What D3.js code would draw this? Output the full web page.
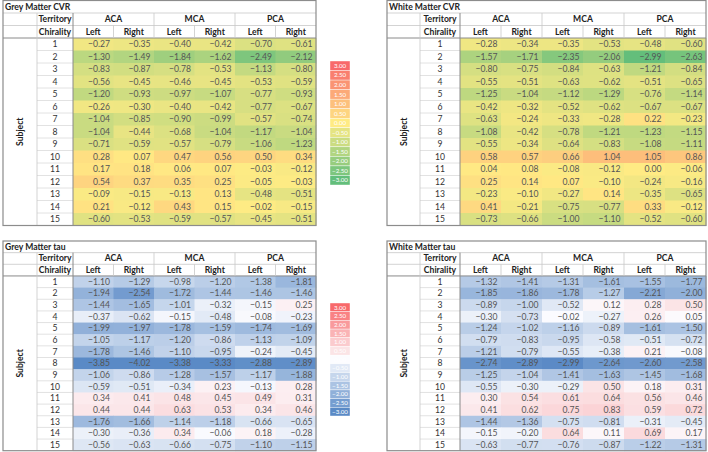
<!DOCTYPE html>
<html>
<head>
<meta charset="utf-8">
<script src="https://cdn.jsdelivr.net/npm/d3@7"></script>
<style>
  html, body { margin: 0; padding: 0; background: #fff; }
  svg { display: block; font-family: Lato, "Open Sans", sans-serif; }
</style>
</head>
<body>
<svg id="chart" width="708" height="452"></svg>
<script>
// ---------------- DATA ----------------
const subjects = [1, 2, 3, 4, 5, 6, 7, 8, 9, 10, 11, 12, 13, 14, 15];
const territories = ["ACA", "MCA", "PCA"];
const chiralities = ["Left", "Right"];
const legendTicks = [3.00, 2.50, 2.00, 1.50, 1.00, 0.50, 0.00, -0.50, -1.00, -1.50, -2.00, -2.50, -3.00];

// columns: ACA L, ACA R, MCA L, MCA R, PCA L, PCA R
const greyMatterCVR = [
  [-0.27, -0.35, -0.40, -0.42, -0.70, -0.61],
  [-1.30, -1.49, -1.84, -1.62, -2.49, -2.12],
  [-0.83, -0.87, -0.78, -0.53, -1.13, -0.80],
  [-0.56, -0.45, -0.46, -0.45, -0.53, -0.59],
  [-1.20, -0.93, -0.97, -1.07, -0.77, -0.93],
  [-0.26, -0.30, -0.40, -0.42, -0.77, -0.67],
  [-1.04, -0.85, -0.90, -0.99, -0.57, -0.74],
  [-1.04, -0.44, -0.68, -1.04, -1.17, -1.04],
  [-0.71, -0.59, -0.57, -0.79, -1.06, -1.23],
  [0.28, 0.07, 0.47, 0.56, 0.50, 0.34],
  [0.17, 0.18, 0.06, 0.07, -0.03, -0.12],
  [0.54, 0.37, 0.35, 0.25, -0.05, -0.03],
  [-0.09, -0.15, -0.13, 0.13, -0.48, -0.51],
  [0.21, -0.12, 0.43, 0.15, -0.02, -0.15],
  [-0.60, -0.53, -0.59, -0.57, -0.45, -0.51]
];
const whiteMatterCVR = [
  [-0.28, -0.34, -0.35, -0.53, -0.48, -0.60],
  [-1.57, -1.71, -2.35, -2.06, -2.99, -2.63],
  [-0.80, -0.75, -0.84, -0.63, -1.21, -0.84],
  [-0.55, -0.51, -0.63, -0.62, -0.51, -0.65],
  [-1.25, -1.04, -1.12, -1.29, -0.76, -1.14],
  [-0.42, -0.32, -0.52, -0.62, -0.67, -0.67],
  [-0.63, -0.24, -0.33, -0.28, 0.22, -0.23],
  [-1.08, -0.42, -0.78, -1.21, -1.23, -1.15],
  [-0.55, -0.34, -0.64, -0.83, -1.08, -1.11],
  [0.58, 0.57, 0.66, 1.04, 1.05, 0.86],
  [0.04, 0.08, -0.08, -0.12, 0.00, -0.06],
  [0.25, 0.14, 0.07, -0.10, -0.24, -0.16],
  [-0.23, -0.10, -0.27, 0.14, -0.35, -0.65],
  [0.41, -0.21, -0.75, -0.77, 0.33, -0.12],
  [-0.73, -0.66, -1.00, -1.10, -0.52, -0.60]
];
const greyMatterTau = [
  [-1.10, -1.29, -0.98, -1.20, -1.38, -1.81],
  [-1.94, -2.54, -1.72, -1.44, -1.46, -1.46],
  [-1.44, -1.65, -1.01, -0.32, -0.15, 0.25],
  [-0.37, -0.62, -0.15, -0.48, -0.08, -0.23],
  [-1.99, -1.97, -1.78, -1.59, -1.74, -1.69],
  [-1.05, -1.17, -1.20, -0.86, -1.13, -1.09],
  [-1.78, -1.46, -1.10, -0.95, -0.24, -0.45],
  [-3.85, -4.02, -3.38, -3.33, -2.88, -2.89],
  [-1.06, -0.86, -1.28, -1.57, -1.17, -1.88],
  [-0.59, -0.51, -0.34, 0.23, -0.13, 0.28],
  [0.34, 0.41, 0.48, 0.45, 0.49, 0.31],
  [0.44, 0.44, 0.63, 0.53, 0.34, 0.46],
  [-1.76, -1.66, -1.14, -1.18, -0.66, -0.65],
  [-0.30, -0.36, 0.34, -0.06, 0.18, -0.28],
  [-0.56, -0.63, -0.66, -0.75, -1.10, -1.15]
];
const whiteMatterTau = [
  [-1.32, -1.41, -1.31, -1.61, -1.55, -1.77],
  [-1.85, -1.86, -1.78, -1.27, -2.21, -2.00],
  [-0.89, -1.00, -0.52, 0.12, 0.28, 0.50],
  [-0.30, -0.73, -0.02, -0.27, 0.26, 0.05],
  [-1.24, -1.02, -1.16, -0.89, -1.61, -1.50],
  [-0.79, -0.83, -0.95, -0.58, -0.51, -0.72],
  [-1.21, -0.79, -0.55, -0.38, 0.21, -0.08],
  [-2.74, -2.89, -2.99, -2.64, -2.60, -2.58],
  [-1.25, -1.04, -1.41, -1.63, -1.45, -1.68],
  [-0.55, -0.30, -0.29, 0.50, 0.18, 0.31],
  [0.30, 0.54, 0.61, 0.64, 0.56, 0.46],
  [0.41, 0.62, 0.75, 0.83, 0.59, 0.72],
  [-1.44, -1.36, -0.75, -0.81, -0.31, -0.45],
  [-0.15, -0.20, 0.64, 0.11, 0.69, 0.17],
  [-0.63, -0.77, -0.76, -0.87, -1.22, -1.31]
];

// ---------------- SCALES ----------------
const cvrColor = d3.scaleLinear().domain([-3, 0, 3])
  .range(["#63BE7B", "#FFEB84", "#F8696B"]).clamp(true);
const tauColor = d3.scaleLinear().domain([-3, 0, 3])
  .range(["#5A8AC6", "#FCFCFF", "#F8696B"]).clamp(true);

const svg = d3.select("#chart");
const fmt = d3.format(".2f");
const colKeys = territories.flatMap(t => chiralities.map(c => t + "|" + c));
const rowKeys = ["title", "territory", "chirality"].concat(subjects);

const FS = 8.6;
const gridLight = "#C8C8C8";
const gridDark = "#8A8A8A";

function drawTable(o) {
  const g = svg.append("g").attr("transform", `translate(${o.x0},${o.y0})`);
  const W = o.labelW + o.terrW + o.dataW;
  const H = o.rowH * rowKeys.length;
  const dx0 = o.labelW + o.terrW;
  const x = d3.scaleBand().domain(colKeys).range([dx0, W]);
  const xt = d3.scaleBand().domain(territories).range([dx0, W]);
  const y = d3.scaleBand().domain(rowKeys).range([0, H]);
  const cells = [];
  o.values.forEach((row, i) => row.forEach((v, j) => cells.push({ s: subjects[i], k: colKeys[j], v })));

  g.append("rect").attr("width", W).attr("height", H).attr("fill", "#fff");

  g.selectAll("rect.cell").data(cells).join("rect")
    .attr("class", "cell")
    .attr("x", d => x(d.k)).attr("y", d => y(d.s))
    .attr("width", x.bandwidth() + 0.5).attr("height", y.bandwidth() + 0.5)
    .attr("fill", d => o.color(d.v));

  g.selectAll("text.val").data(cells).join("text")
    .attr("class", "val")
    .attr("x", d => x(d.k) + x.bandwidth() - 3.5)
    .attr("y", d => y(d.s) + y.bandwidth() / 2)
    .attr("dy", "0.35em")
    .attr("text-anchor", "end")
    .attr("font-size", FS)
    .attr("fill", "#555")
    .text(d => fmt(d.v));

  g.selectAll("line.sub").data(subjects.slice(1)).join("line")
    .attr("x1", o.labelW).attr("x2", dx0)
    .attr("y1", d => y(d)).attr("y2", d => y(d))
    .attr("stroke", "#DADADA").attr("stroke-width", 0.8);

  g.selectAll("text.sub").data(subjects).join("text")
    .attr("x", o.labelW + o.terrW / 2)
    .attr("y", d => y(d) + y.bandwidth() / 2)
    .attr("dy", "0.35em").attr("text-anchor", "middle")
    .attr("font-size", FS).attr("fill", "#333")
    .text(d => d);

  ["territory", "chirality"].forEach(k => {
    g.append("line").attr("x1", 0).attr("x2", W)
      .attr("y1", y(k)).attr("y2", y(k))
      .attr("stroke", gridLight).attr("stroke-width", 0.8);
  });
  g.append("line").attr("x1", 0).attr("x2", W)
    .attr("y1", y(subjects[0])).attr("y2", y(subjects[0]))
    .attr("stroke", gridDark).attr("stroke-width", 1);

  territories.slice(1).forEach(t => {
    g.append("line").attr("x1", xt(t)).attr("x2", xt(t))
      .attr("y1", y("territory")).attr("y2", y(subjects[0]))
      .attr("stroke", gridLight).attr("stroke-width", 0.8);
  });
  colKeys.filter(k => k.endsWith("Right")).forEach(k => {
    g.append("line").attr("x1", x(k)).attr("x2", x(k))
      .attr("y1", y("chirality")).attr("y2", y(subjects[0]))
      .attr("stroke", gridLight).attr("stroke-width", 0.8);
  });
  g.append("line").attr("x1", o.labelW).attr("x2", o.labelW)
    .attr("y1", y("territory")).attr("y2", H)
    .attr("stroke", gridLight).attr("stroke-width", 0.8);
  g.append("line").attr("x1", dx0).attr("x2", dx0)
    .attr("y1", y("territory")).attr("y2", H)
    .attr("stroke", gridDark).attr("stroke-width", 1);

  g.append("text").attr("x", 2).attr("y", y("title") + y.bandwidth() / 2)
    .attr("dy", "0.35em").attr("font-size", FS).attr("font-weight", "bold")
    .attr("fill", "#222").text(o.title);
  g.append("text").attr("x", o.labelW + o.terrW / 2).attr("y", y("territory") + y.bandwidth() / 2)
    .attr("dy", "0.35em").attr("text-anchor", "middle").attr("font-size", FS)
    .attr("font-weight", "bold").attr("fill", "#222").text("Territory");
  g.append("text").attr("x", o.labelW + o.terrW / 2).attr("y", y("chirality") + y.bandwidth() / 2)
    .attr("dy", "0.35em").attr("text-anchor", "middle").attr("font-size", FS)
    .attr("font-weight", "bold").attr("fill", "#222").text("Chirality");
  g.selectAll("text.terr").data(territories).join("text")
    .attr("x", d => xt(d) + xt.bandwidth() / 2)
    .attr("y", y("territory") + y.bandwidth() / 2)
    .attr("dy", "0.35em").attr("text-anchor", "middle").attr("font-size", FS)
    .attr("font-weight", "bold").attr("fill", "#222").text(d => d);
  g.selectAll("text.chir").data(colKeys).join("text")
    .attr("x", d => x(d) + x.bandwidth() / 2)
    .attr("y", y("chirality") + y.bandwidth() / 2)
    .attr("dy", "0.35em").attr("text-anchor", "middle").attr("font-size", FS)
    .attr("font-weight", "bold").attr("fill", "#222").text(d => d.split("|")[1]);

  const yMid = (y(subjects[0]) + H) / 2;
  g.append("text")
    .attr("transform", `translate(${o.labelW / 2},${yMid}) rotate(-90)`)
    .attr("dy", "0.35em").attr("text-anchor", "middle").attr("font-size", FS)
    .attr("font-weight", "bold").attr("fill", "#222").text("Subject");

  g.append("rect").attr("x", 0).attr("y", 0).attr("width", W).attr("height", H)
    .attr("fill", "none").attr("stroke", "#8C8C8C").attr("stroke-width", 1.2);
}

function drawLegend(o) {
  const g = svg.append("g").attr("transform", `translate(${o.x0},${o.y0})`);
  const y = d3.scaleBand().domain(legendTicks).range([0, o.h]);
  g.selectAll("rect").data(legendTicks).join("rect")
    .attr("x", 0).attr("y", d => y(d)).attr("width", o.w).attr("height", y.bandwidth())
    .attr("fill", d => o.color(d)).attr("stroke", "#fff").attr("stroke-width", 0.4);
  g.selectAll("text").data(legendTicks).join("text")
    .attr("x", o.w / 2).attr("y", d => y(d) + y.bandwidth() / 2)
    .attr("dy", "0.35em").attr("text-anchor", "middle")
    .attr("font-size", 6.2).attr("fill", "#fff")
    .text(d => fmt(d));
}

drawTable({ x0: 3, y0: 0.5, labelW: 34, terrW: 36, dataW: 243, rowH: 12.5,
  title: "Grey Matter CVR", values: greyMatterCVR, color: cvrColor });
drawTable({ x0: 387, y0: 0.5, labelW: 33, terrW: 40, dataW: 246, rowH: 12.5,
  title: "White Matter CVR", values: whiteMatterCVR, color: cvrColor });
drawTable({ x0: 3, y0: 241, labelW: 34, terrW: 36, dataW: 243, rowH: 11.65,
  title: "Grey Matter tau", values: greyMatterTau, color: tauColor });
drawTable({ x0: 387, y0: 241, labelW: 33, terrW: 40, dataW: 246, rowH: 11.65,
  title: "White Matter tau", values: whiteMatterTau, color: tauColor });

drawLegend({ x0: 330, y0: 61, w: 20, h: 124, color: cvrColor });
drawLegend({ x0: 330, y0: 303, w: 20, h: 113, color: tauColor });
</script>
</body>
</html>
